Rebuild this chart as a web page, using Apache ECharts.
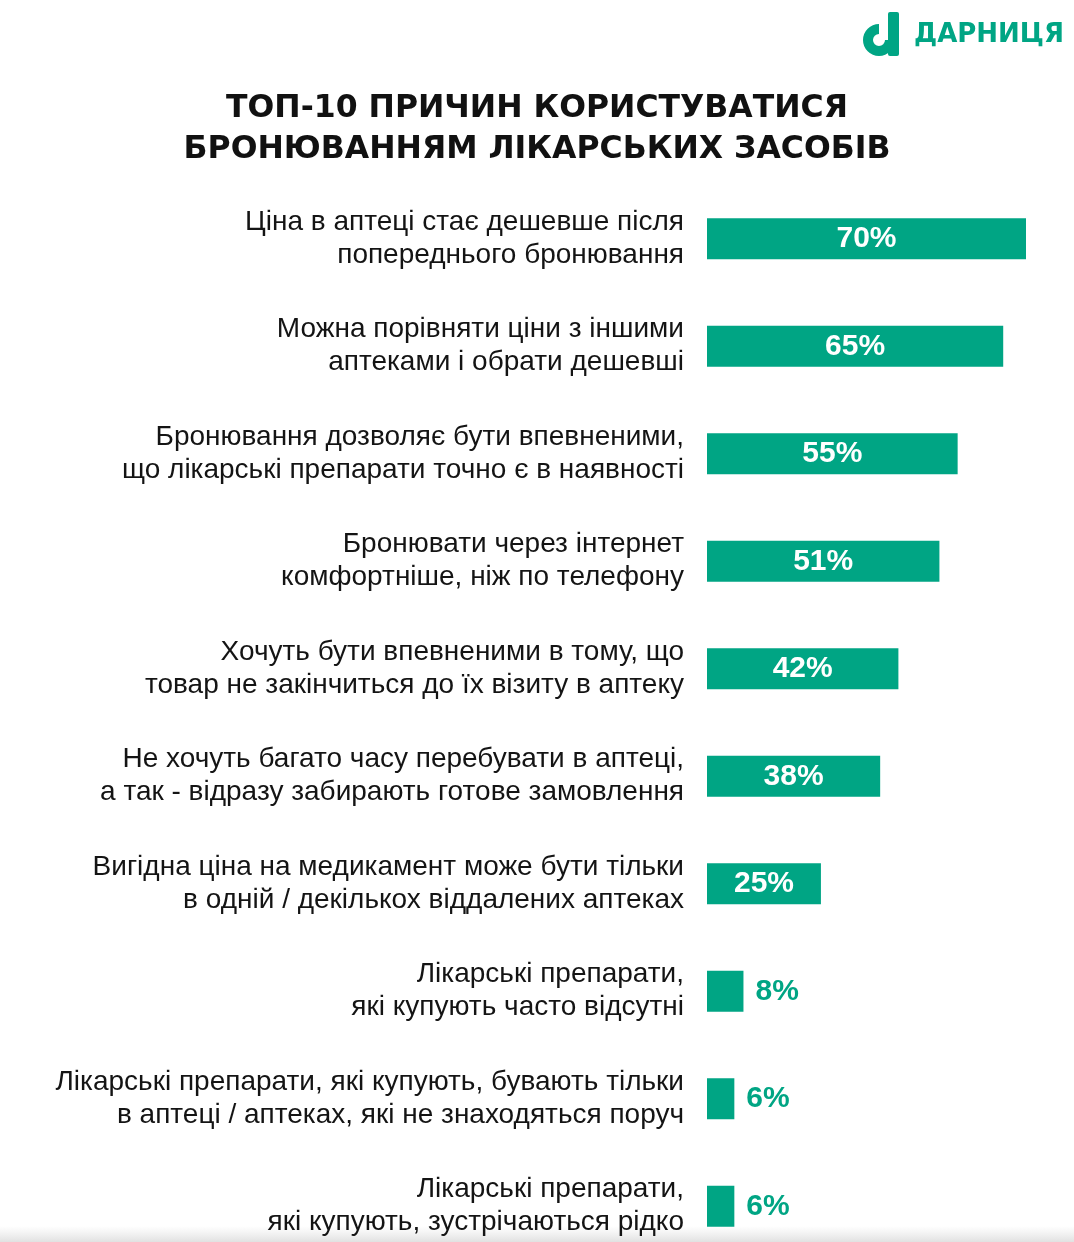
<!DOCTYPE html>
<html>
<head>
<meta charset="utf-8">
<script src="https://cdn.jsdelivr.net/npm/echarts@6/dist/echarts.min.js"></script>
<style>
html,body{margin:0;padding:0;background:#fff;}
#chart{width:1074px;height:1242px;}
</style>
</head>
<body>
<div id="chart"></div>
<script>
const titleLines = ['ТОП-10 ПРИЧИН КОРИСТУВАТИСЯ', 'БРОНЮВАННЯМ ЛІКАРСЬКИХ ЗАСОБІВ'];
const brandName = 'ДАРНИЦЯ';
const categories = [
  'Ціна в аптеці стає дешевше після\nпопереднього бронювання',
  'Можна порівняти ціни з іншими\nаптеками і обрати дешевші',
  'Бронювання дозволяє бути впевненими,\nщо лікарські препарати точно є в наявності',
  'Бронювати через інтернет\nкомфортніше, ніж по телефону',
  'Хочуть бути впевненими в тому, що\nтовар не закінчиться до їх візиту в аптеку',
  'Не хочуть багато часу перебувати в аптеці,\nа так - відразу забирають готове замовлення',
  'Вигідна ціна на медикамент може бути тільки\nв одній / декількох віддалених аптеках',
  'Лікарські препарати,\nякі купують часто відсутні',
  'Лікарські препарати, які купують, бувають тільки\nв аптеці / аптеках, які не знаходяться поруч',
  'Лікарські препарати,\nякі купують, зустрічаються рідко'
];
const values = [70, 65, 55, 51, 42, 38, 25, 8, 6, 6];

const GREEN = '#00a584';
const chart = echarts.init(document.getElementById('chart'), null, {renderer: 'canvas'});
const seriesData = values.map(v => ({
  value: v,
  label: v >= 20
    ? {position: 'inside', color: '#fff'}
    : {position: 'right', distance: 12, color: GREEN}
}));

chart.setOption({
  animation: false,
  backgroundColor: '#fff',
  title: {
    text: titleLines.join('\n'),
    left: 'center',
    top: 83,
    textStyle: {fontFamily: 'DejaVu Sans', fontWeight: 'bold', fontSize: 31.5, lineHeight: 41, color: '#111'}
  },
  graphic: [
    {type: 'sector', shape: {cx: 879, cy: 40, r0: 6, r: 16, startAngle: 0, endAngle: Math.PI * 1.5, clockwise: true}, style: {fill: GREEN}},
    {type: 'rect', shape: {x: 888, y: 12, width: 11, height: 44, r: 2}, style: {fill: GREEN}},
    {type: 'text', left: 914, top: 22, style: {text: brandName, fill: GREEN, font: 'bold 26px "DejaVu Sans"'}},
    {type: 'rect', shape: {x: 0, y: 1226, width: 1074, height: 16}, silent: true,
      style: {fill: new echarts.graphic.LinearGradient(0, 0, 0, 1, [{offset: 0, color: 'rgba(230,230,230,0)'}, {offset: 1, color: 'rgba(225,225,225,1)'}])}}
  ],
  grid: {left: 707, top: 185, width: 319, height: 1075, containLabel: false, outerBoundsMode: 'none'},
  xAxis: {type: 'value', min: 0, max: 70, show: false},
  yAxis: {
    type: 'category', data: categories, inverse: true,
    axisLine: {show: false}, axisTick: {show: false},
    axisLabel: {margin: 23, align: 'right', fontFamily: 'Liberation Sans', fontSize: 28, lineHeight: 33, color: '#141414'}
  },
  series: [{
    type: 'bar', data: seriesData, barWidth: 41,
    itemStyle: {color: GREEN},
    label: {show: true, formatter: '{c}%', fontFamily: 'Liberation Sans', fontWeight: 'bold', fontSize: 30}
  }]
});
</script>
</body>
</html>
